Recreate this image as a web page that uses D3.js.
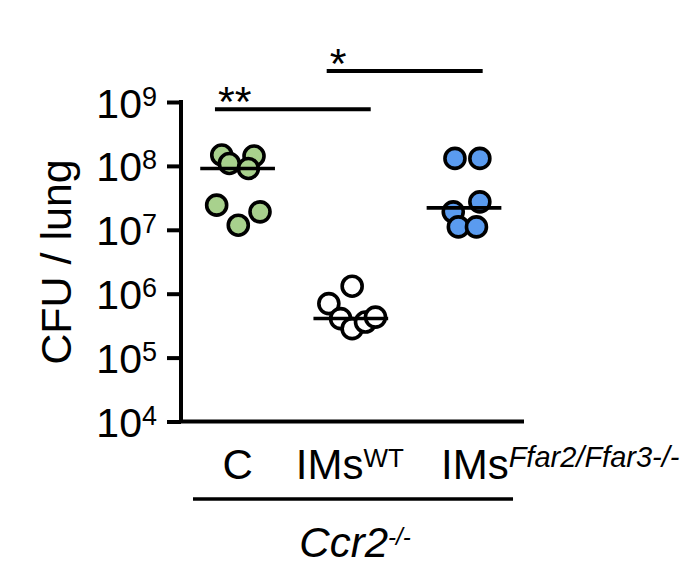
<!DOCTYPE html>
<html>
<head>
<meta charset="utf-8">
<script src="https://cdn.jsdelivr.net/npm/d3@7"></script>
<style>
  body { margin: 0; background: #fff; }
  svg { font-family: "Liberation Sans", Arial, sans-serif; }
</style>
</head>
<body>
<svg width="681" height="571"></svg>
<script>
// groups on the x axis (position 1, 2, 3)
const groupPos = [1, 2, 3];
const groupColors = ["#a8d18d", "#ffffff", "#5a9bef"];
// CFU per lung, one array per group, with horizontal jitter in group units
const cfuC = [1.48e8, 1.09e8, 1.43e8, 9.1e7, 2.43e7, 1.18e7, 1.91e7];
const jitterC = [0.86, 0.927, 1.145, 1.095, 0.815, 1.006, 1.198];
const cfuWT = [1.31e6, 7.0e5, 4.07e5, 2.84e5, 3.6e5, 4.3e5];
const jitterWT = [2.012, 1.806, 1.91, 2.012, 2.13, 2.218];
const cfuKO = [1.31e8, 1.31e8, 1.91e7, 2.74e7, 1.11e7, 1.11e7];
const jitterKO = [2.92, 3.14, 2.905, 3.14, 2.95, 3.11];
// horizontal summary line per group
const meanValues = [9.1e7, 4.1e5, 2.2e7];
// y ticks (powers of ten)
const tickValues = [1e4, 1e5, 1e6, 1e7, 1e8, 1e9];
// significance bars: [from, to, level, label]
const sigFrom = [0.8, 1.787];
const sigTo = [2.176, 3.165];
const sigLevel = [7.7e8, 3.06e9];
const sigLabel = ["**", "*"];

const svg = d3.select("svg");

//scales: linear in group units, log for CFU
const x = d3.scaleLinear().domain([0.5, 3.53]).range([181, 524]);
const y = d3.scaleLog().domain([1e4, 1e9]).range([421.5, 102]);

//build the point table from the arrays
const points = [];
[[cfuC, jitterC, 0], [cfuWT, jitterWT, 1], [cfuKO, jitterKO, 2]].forEach(([vals, jit, g]) => {
  vals.forEach((v, i) => points.push({ v: v, x: jit[i], g: g }));
});

//y axis with superscript labels
const yAxisG = svg.append("g")
  .attr("transform", `translate(${x(0.5)},0)`)
  .call(d3.axisLeft(y).tickValues(tickValues).tickSize(14).tickSizeOuter(0).tickFormat(""));
yAxisG.select(".domain").attr("stroke-width", 4).attr("d", `M0,${y(1e4)}V${y(1e9) - 2}`);
yAxisG.selectAll(".tick line").attr("stroke-width", 4);
yAxisG.selectAll(".tick text").remove();
yAxisG.selectAll(".tick").append("text")
  .attr("x", -24)
  .attr("y", 15)
  .attr("text-anchor", "end")
  .attr("fill", "#000")
  .attr("font-size", 41)
  .each(function (d) {
    const t = d3.select(this);
    t.append("tspan").text("10");
    t.append("tspan").attr("font-size", 27).attr("dy", -12).text(Math.round(Math.log10(d)));
  });

//x axis line (no ticks)
svg.append("line")
  .attr("x1", x(0.5) - 2).attr("x2", x(3.53))
  .attr("y1", y(1e4)).attr("y2", y(1e4))
  .attr("stroke", "#000").attr("stroke-width", 4);

//y axis title
svg.append("text")
  .attr("transform", `translate(71,262) rotate(-90)`)
  .attr("text-anchor", "middle")
  .attr("font-size", 43)
  .text("CFU / lung");

//dots
svg.append("g").selectAll("circle")
  .data(points)
  .join("circle")
  .attr("cx", d => x(d.x))
  .attr("cy", d => y(d.v))
  .attr("r", 10)
  .attr("fill", d => groupColors[d.g])
  .attr("stroke", "#000")
  .attr("stroke-width", 3.6);

//mean lines
svg.append("g").selectAll("line")
  .data(meanValues)
  .join("line")
  .attr("x1", (d, i) => x(groupPos[i] - 0.33))
  .attr("x2", (d, i) => x(groupPos[i] + 0.33))
  .attr("y1", d => y(d))
  .attr("y2", d => y(d))
  .attr("stroke", "#000")
  .attr("stroke-width", 3.6);

//significance bars and stars
sigLabel.forEach((lab, i) => {
  svg.append("line")
    .attr("x1", x(sigFrom[i])).attr("x2", x(sigTo[i]))
    .attr("y1", y(sigLevel[i])).attr("y2", y(sigLevel[i]))
    .attr("stroke", "#000").attr("stroke-width", 4);
  svg.append("text")
    .attr("x", x(sigFrom[i]) + 3)
    .attr("y", y(sigLevel[i]) + 7)
    .attr("font-size", 43)
    .text(lab);
});

//group labels
const labelY = 479;
svg.append("text").attr("x", x(1)).attr("y", labelY)
  .attr("text-anchor", "middle").attr("font-size", 42).text("C");
const wt = svg.append("text").attr("x", x(2) - 1).attr("y", labelY)
  .attr("text-anchor", "middle").attr("font-size", 42);
wt.append("tspan").text("IMs");
wt.append("tspan").attr("font-size", 26).attr("dy", -12).text("WT");
const ko = svg.append("text").attr("x", x(3) - 23).attr("y", labelY)
  .attr("font-size", 42);
ko.append("tspan").text("IMs");
ko.append("tspan").attr("font-size", 29).attr("dy", -12).attr("font-style", "italic").text("Ffar2/Ffar3-/-");

//genotype bracket
svg.append("line")
  .attr("x1", x(0.606)).attr("x2", x(3.433))
  .attr("y1", 499).attr("y2", 499)
  .attr("stroke", "#000").attr("stroke-width", 3.6);
const ccr = svg.append("text").attr("x", (x(0.606) + x(3.433)) / 2 + 2).attr("y", 557)
  .attr("text-anchor", "middle").attr("font-size", 42).attr("font-style", "italic");
ccr.append("tspan").text("Ccr2");
ccr.append("tspan").attr("font-size", 24).attr("dy", -12).text("-/-");
</script>
</body>
</html>
